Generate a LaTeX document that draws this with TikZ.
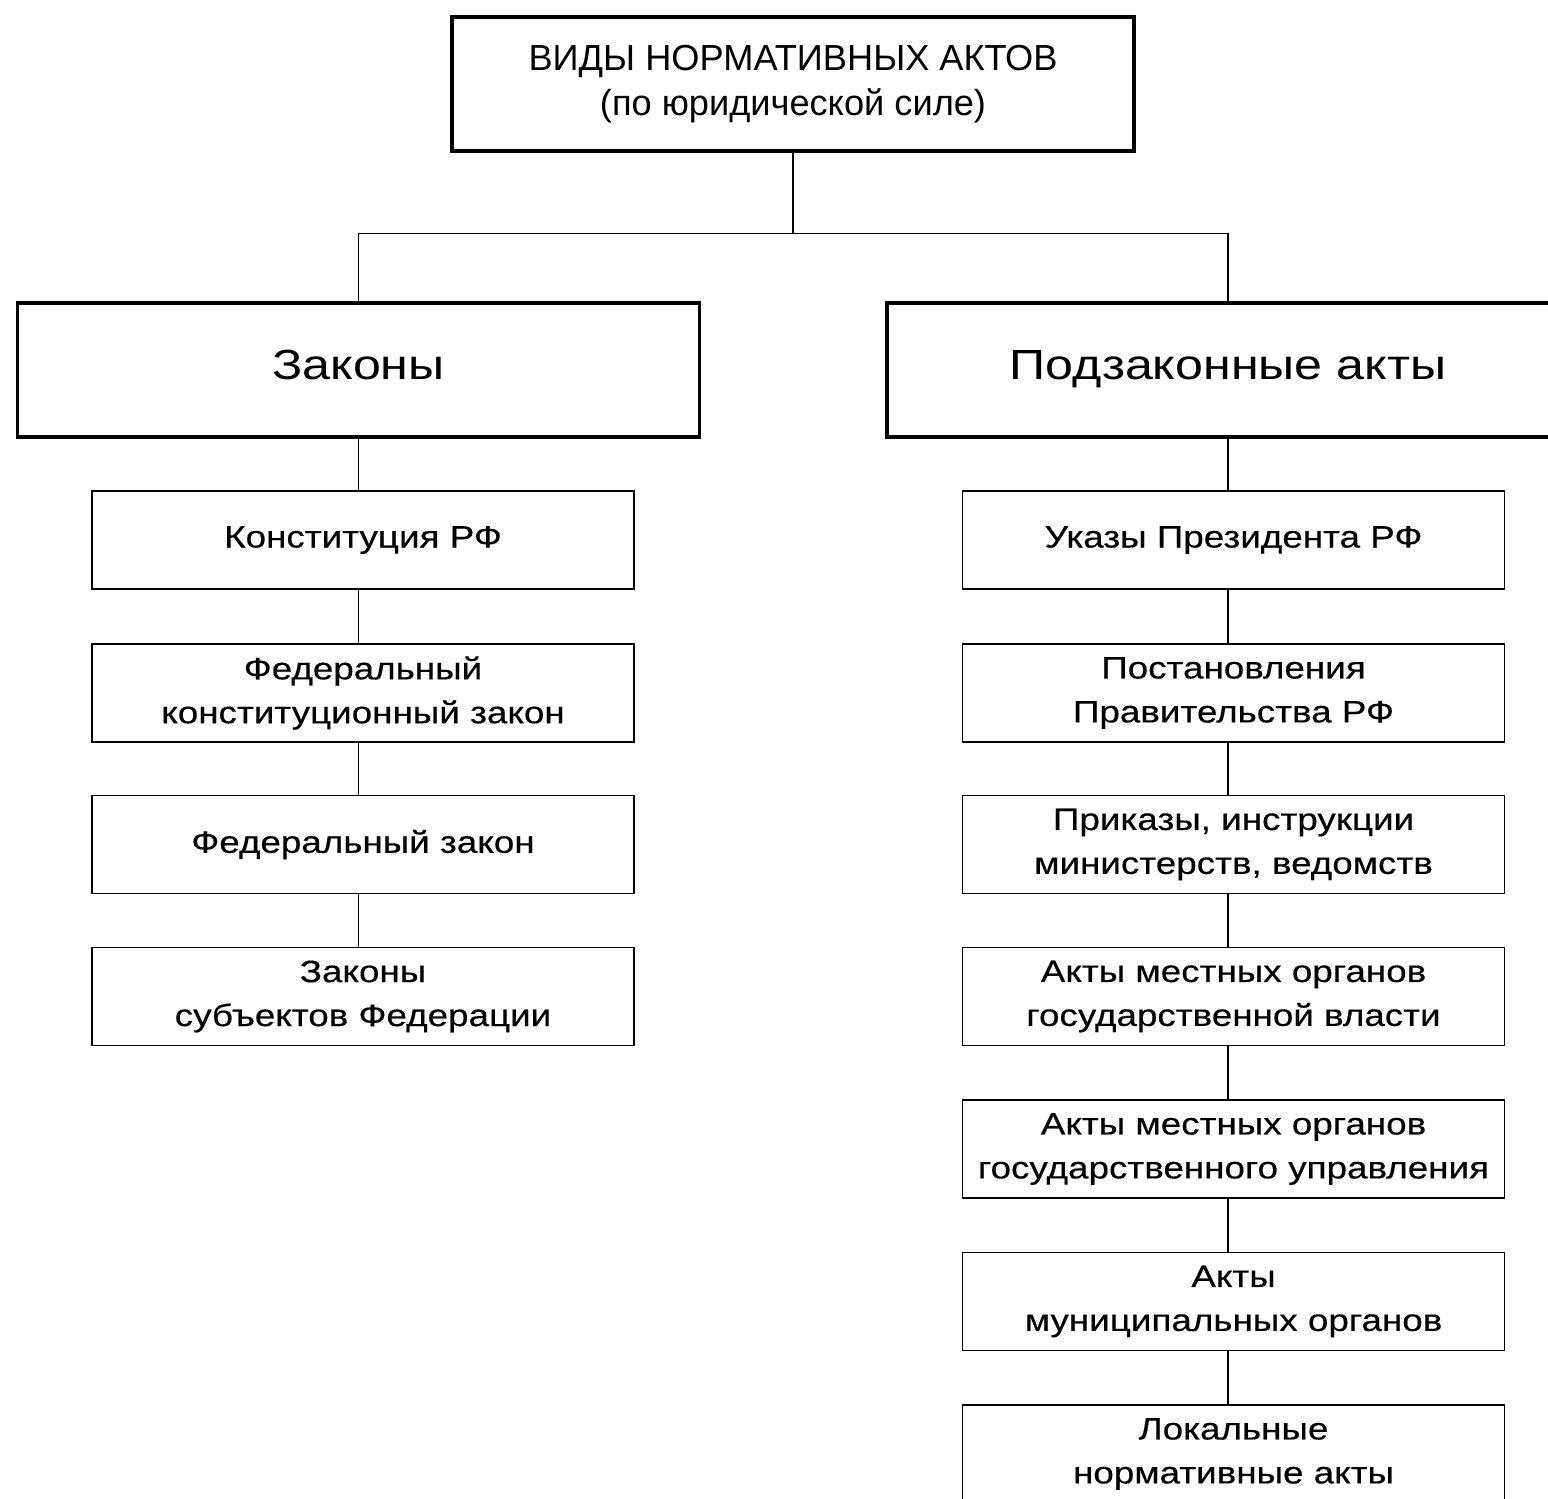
\documentclass[tikz,border=0pt]{standalone}
\usepackage{fontspec}
\setmainfont{Liberation Sans}
\newfontfamily\wideface[FakeStretch=1.19]{Liberation Sans}
\newfontfamily\actface[FakeStretch=1.19,FakeBold=0.4]{Liberation Sans}
\begin{document}
\begin{tikzpicture}[
    headbox/.style={draw, line width=0.9pt, align=center},
    bighead/.style={headbox, minimum width=6.82cm, minimum height=1.34cm, text height=0.3cm, text depth=0.12cm,
      font=\wideface\fontsize{12}{14}\selectfont},
    actbox/.style={draw, line width=0.45pt, align=center, minimum width=5.42cm, minimum height=0.98cm,
      font=\actface\fontsize{8.8}{12.5}\selectfont},
    link/.style={line width=0.5pt}]
  \useasboundingbox (0,0) rectangle (15.48,-14.98);
  \clip (0,0) rectangle (15.48,-14.98);
  % heads
  \node[headbox, minimum width=6.82cm, minimum height=1.34cm, font=\fontsize{10.3}{12.8}\selectfont]
    (vidy) at (7.93,-0.84) {ВИДЫ НОРМАТИВНЫХ АКТОВ\\(по юридической силе)};
  \node[bighead] (zak) at (3.585,-3.70) {Законы};
  \node[bighead] (podzak) at (12.28,-3.70) {Подзаконные акты};
  \draw[link] (vidy.south) -- ++(0,-0.81) -| (zak.north);
  \draw[link] (vidy.south) -- ++(0,-0.81) -| (podzak.north);
  % laws
  \node[actbox] (konst) at (3.63,-5.40) {Конституция РФ};
  \node[actbox] (fkz) at (3.63,-6.93) {Федеральный\\конституционный закон};
  \node[actbox] (fz) at (3.63,-8.445) {Федеральный закон};
  \node[actbox] (subj) at (3.63,-9.965) {Законы\\субъектов Федерации};
  \draw[link] (zak.south) -- (zak.south |- konst.north);
  \foreach \a/\b in {konst/fkz, fkz/fz, fz/subj}
    \draw[link] (zak.south |- \a.south) -- (zak.south |- \b.north);
  % by-laws
  \node[actbox] (ukaz) at (12.335,-5.40) {Указы Президента РФ};
  \node[actbox] (post) at (12.335,-6.93) {Постановления\\Правительства РФ};
  \node[actbox] (prik) at (12.335,-8.445) {Приказы, инструкции\\министерств, ведомств};
  \node[actbox] (mvlast) at (12.335,-9.965) {Акты местных органов\\государственной власти};
  \node[actbox] (mupr) at (12.335,-11.49) {Акты местных органов\\государственного управления};
  \node[actbox] (mun) at (12.335,-13.015) {Акты\\муниципальных органов};
  \node[actbox] (lok) at (12.335,-14.54) {Локальные\\нормативные акты};
  \draw[link] (podzak.south) -- (podzak.south |- ukaz.north);
  \foreach \a/\b in {ukaz/post, post/prik, prik/mvlast, mvlast/mupr, mupr/mun, mun/lok}
    \draw[link] (podzak.south |- \a.south) -- (podzak.south |- \b.north);
\end{tikzpicture}
\end{document}
